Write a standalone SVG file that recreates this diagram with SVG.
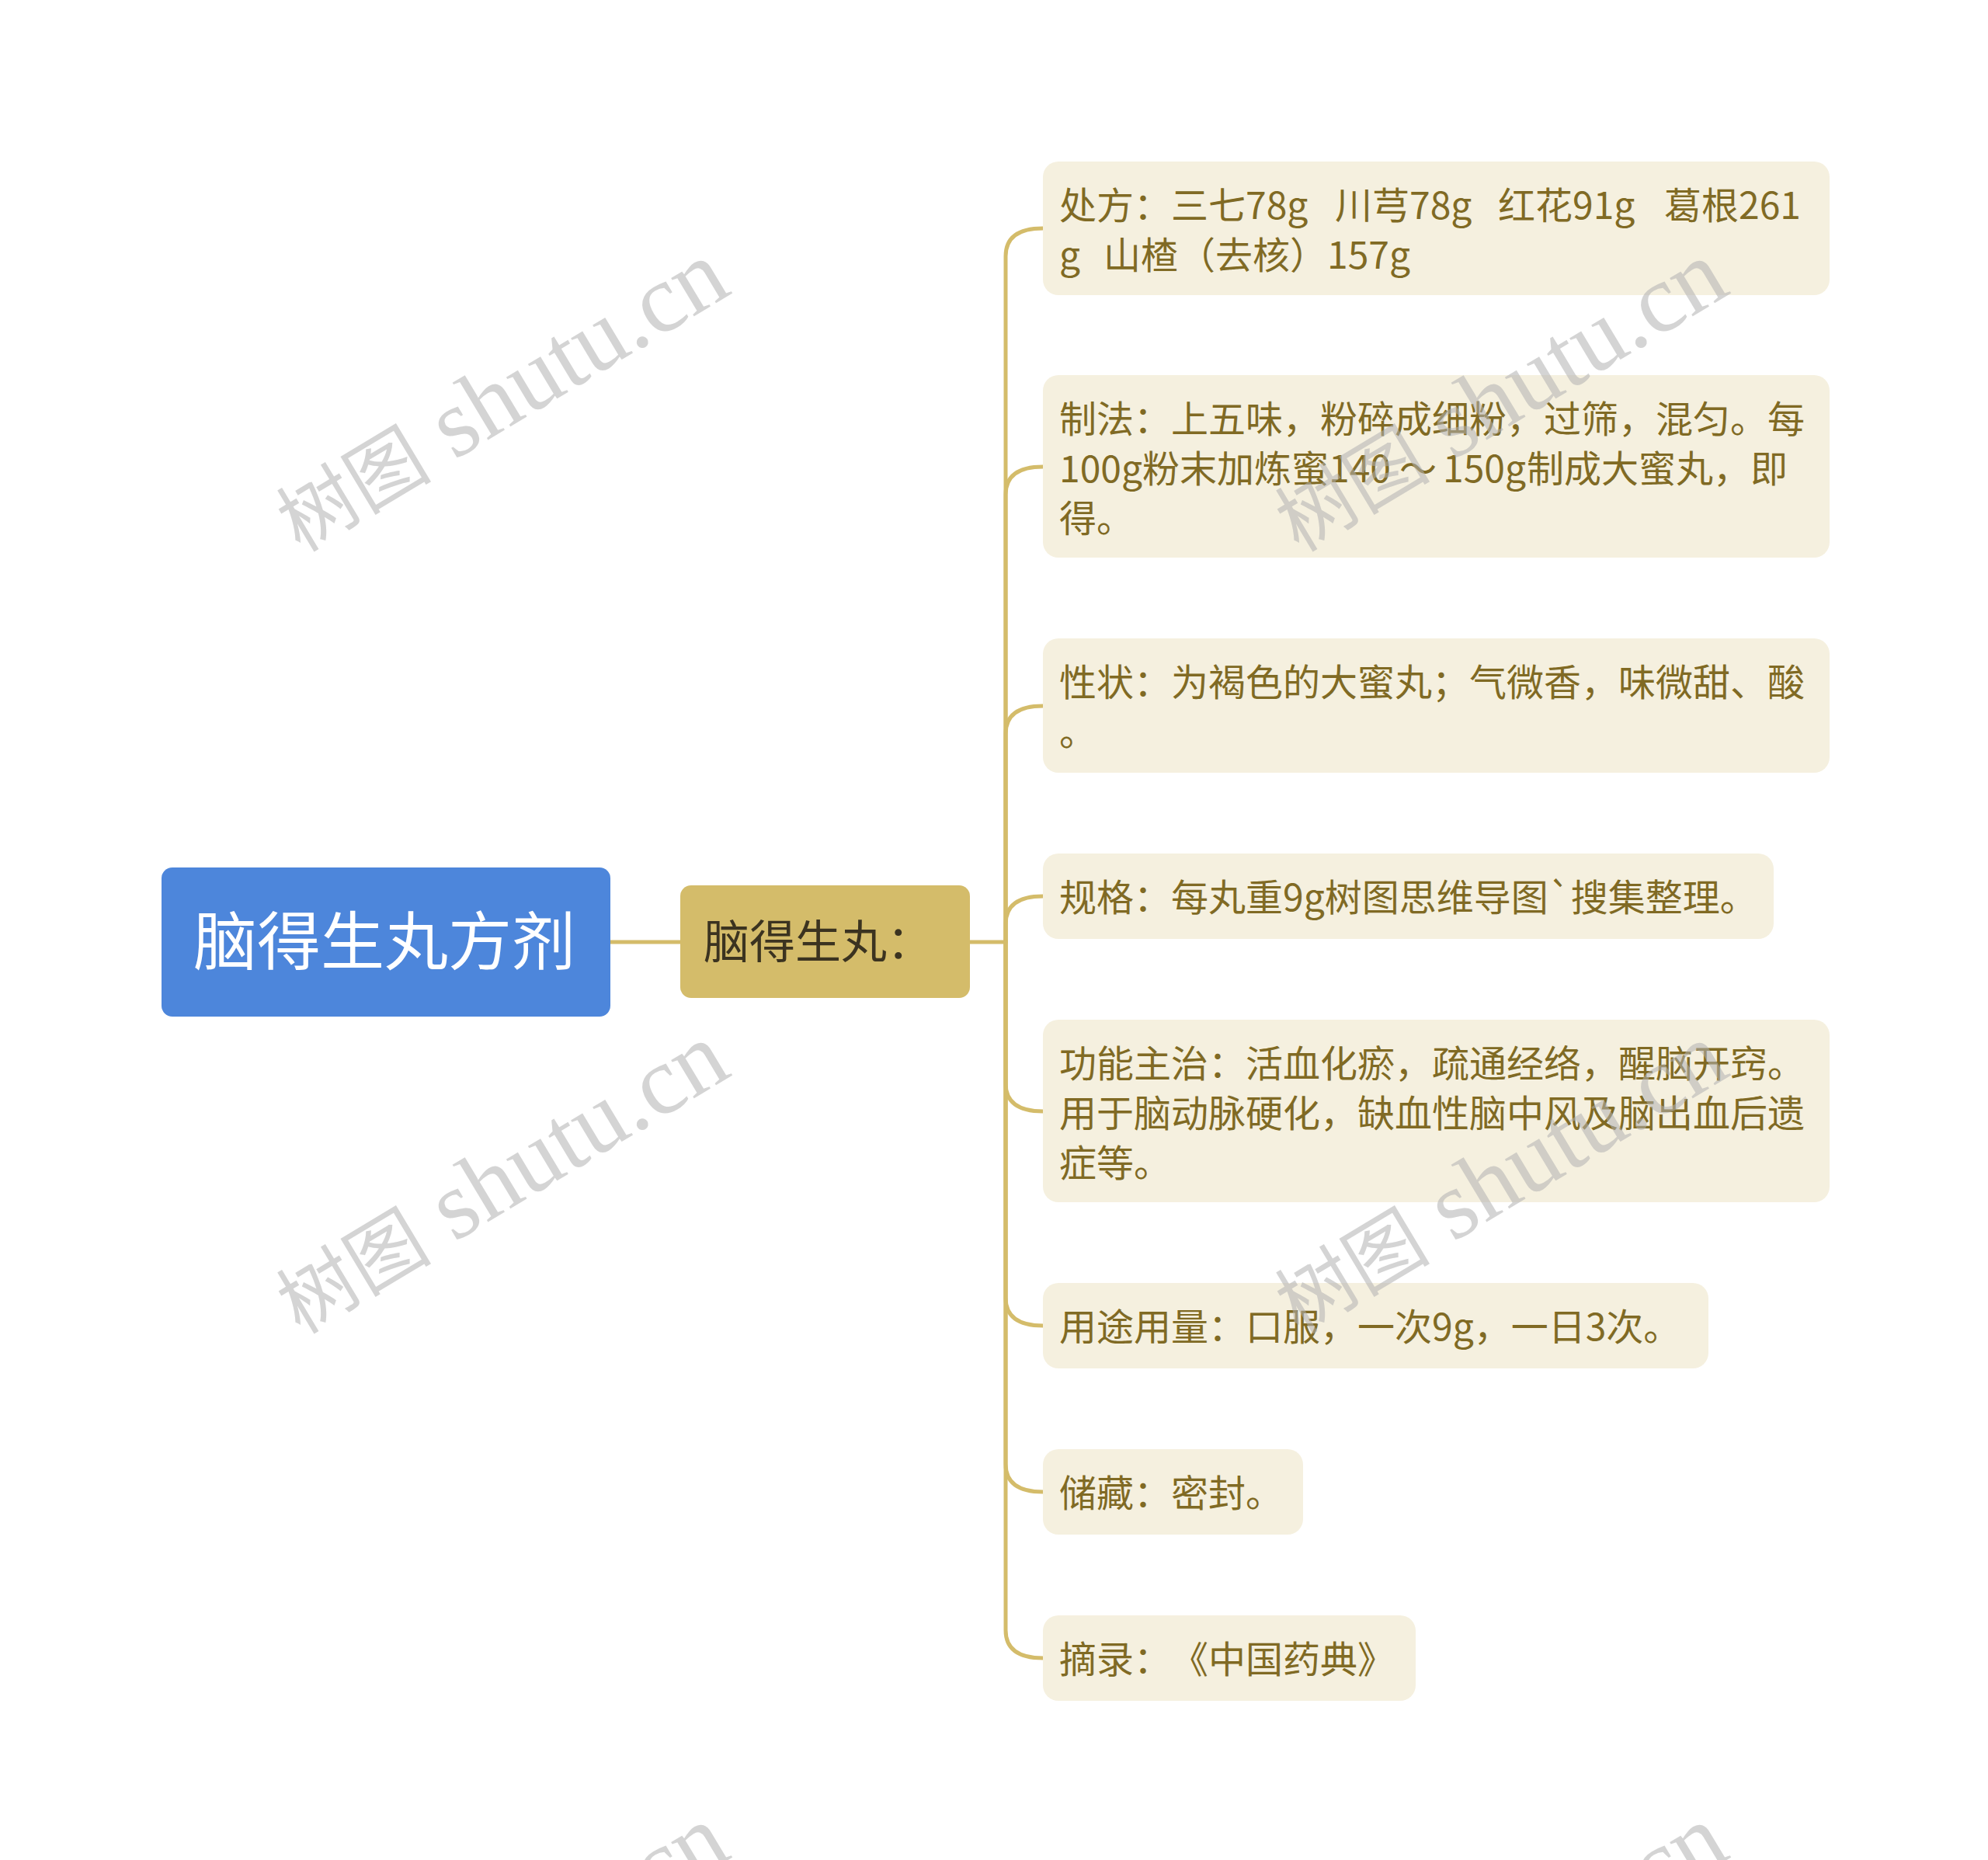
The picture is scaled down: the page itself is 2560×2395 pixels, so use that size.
<svg xmlns="http://www.w3.org/2000/svg" width="2560" height="2395" viewBox="0 0 2560 2395">
<style>
.bg{fill:#ffffff}
.root-box{fill:#4D86DB}
.root-txt{fill:#ffffff;font-family:"Noto Sans CJK SC","Noto Sans",sans-serif;font-size:82px}
.sub-box{fill:#D4BC6A}
.sub-txt{fill:#3b3320;font-family:"Noto Sans CJK SC","Noto Sans",sans-serif;font-size:59px}
.leaf-box{fill:#F5F0DF}
.leaf-txt{fill:#806A24;font-family:"Noto Sans CJK SC","Noto Sans",sans-serif;font-size:48px}
.conn{fill:none;stroke:#D4BC6A;stroke-width:5;stroke-linecap:round;stroke-linejoin:round}
.wm{fill:#b0b0b0;fill-opacity:0.55;font-family:"Liberation Serif","Noto Sans CJK SC",serif;font-size:125px}
.wm-cjk{font-family:"Noto Sans CJK SC",serif;font-size:100px}
</style>
<rect class="bg" x="0" y="0" width="2560" height="2395"/>
<g id="connectors">
<path class="conn" d="M786 1213 H876"/>
<path class="conn" d="M1249 1213 H1295 V330 Q1295 294 1343 294"/>
<path class="conn" d="M1295 1213 V637 Q1295 601 1343 601"/>
<path class="conn" d="M1295 1213 V945 Q1295 909 1343 909"/>
<path class="conn" d="M1295 1213 V1190 Q1295 1154 1343 1154"/>
<path class="conn" d="M1295 1213 V1395 Q1295 1431 1343 1431"/>
<path class="conn" d="M1295 1213 V1671 Q1295 1707 1343 1707"/>
<path class="conn" d="M1295 1213 V1885 Q1295 1921 1343 1921"/>
<path class="conn" d="M1295 1213 V2099 Q1295 2135 1343 2135"/>
</g>
<g id="root">
<rect class="root-box" x="208" y="1117" width="578" height="192" rx="14"/>
<text class="root-txt" x="495" y="1242" text-anchor="middle">脑得生丸方剂</text>
</g>
<g id="node-main">
<rect class="sub-box" x="876" y="1140" width="373" height="145" rx="14"/>
<text class="sub-txt" x="906" y="1234">脑得生丸：</text>
</g>
<g id="leaf-1">
<rect class="leaf-box" x="1343" y="208" width="1013" height="172" rx="20"/>
<text class="leaf-txt" x="1364" y="282">处方：三七78g<tspan x="1719">川芎78g</tspan><tspan x="1929">红花91g</tspan><tspan x="2143">葛根261</tspan></text>
<text class="leaf-txt" x="1364" y="346">g<tspan x="1421">山楂（去核）157g</tspan></text>
</g>
<g id="leaf-2">
<rect class="leaf-box" x="1343" y="483" width="1013" height="235" rx="20"/>
<text class="leaf-txt" x="1364" y="557">制法：上五味，粉碎成细粉，过筛，混匀。每</text>
<text class="leaf-txt" x="1364" y="621">100g粉末加炼蜜140<tspan x="1802">～</tspan><tspan x="1858">150g</tspan><tspan x="1966">制成大蜜丸，即</tspan></text>
<text class="leaf-txt" x="1364" y="685">得。</text>
</g>
<g id="leaf-3">
<rect class="leaf-box" x="1343" y="822" width="1013" height="173" rx="20"/>
<text class="leaf-txt" x="1364" y="896">性状：为褐色的大蜜丸；气微香，味微甜、酸</text>
<text class="leaf-txt" x="1364" y="960">。</text>
</g>
<g id="leaf-4">
<rect class="leaf-box" x="1343" y="1099" width="941" height="110" rx="20"/>
<text class="leaf-txt" x="1364" y="1173">规格：每丸重9g树图思维导图`搜集整理。</text>
</g>
<g id="leaf-5">
<rect class="leaf-box" x="1343" y="1313" width="1013" height="235" rx="20"/>
<text class="leaf-txt" x="1364" y="1387">功能主治：活血化瘀，疏通经络，醒脑开窍。</text>
<text class="leaf-txt" x="1364" y="1451">用于脑动脉硬化，缺血性脑中风及脑出血后遗</text>
<text class="leaf-txt" x="1364" y="1515">症等。</text>
</g>
<g id="leaf-6">
<rect class="leaf-box" x="1343" y="1652" width="857" height="110" rx="20"/>
<text class="leaf-txt" x="1364" y="1726">用途用量：口服，一次9g，一日3次。</text>
</g>
<g id="leaf-7">
<rect class="leaf-box" x="1343" y="1866" width="335" height="110" rx="20"/>
<text class="leaf-txt" x="1364" y="1940">储藏：密封。</text>
</g>
<g id="leaf-8">
<rect class="leaf-box" x="1343" y="2080" width="480" height="110" rx="20"/>
<text class="leaf-txt" x="1364" y="2154">摘录：<tspan x="1508">《中国药典》</tspan></text>
</g>
<g id="watermarks">
<text class="wm" transform="translate(645,510) rotate(-31)" x="0" y="40" text-anchor="middle"><tspan class="wm-cjk">树图</tspan> shutu.cn</text>
<text class="wm" transform="translate(1931,510) rotate(-31)" x="0" y="40" text-anchor="middle"><tspan class="wm-cjk">树图</tspan> shutu.cn</text>
<text class="wm" transform="translate(645,1517) rotate(-31)" x="0" y="40" text-anchor="middle"><tspan class="wm-cjk">树图</tspan> shutu.cn</text>
<text class="wm" transform="translate(1931,1517) rotate(-31)" x="0" y="40" text-anchor="middle"><tspan class="wm-cjk">树图</tspan> shutu.cn</text>
<text class="wm" transform="translate(645,2524) rotate(-31)" x="0" y="40" text-anchor="middle"><tspan class="wm-cjk">树图</tspan> shutu.cn</text>
<text class="wm" transform="translate(1931,2524) rotate(-31)" x="0" y="40" text-anchor="middle"><tspan class="wm-cjk">树图</tspan> shutu.cn</text>
</g>
</svg>
